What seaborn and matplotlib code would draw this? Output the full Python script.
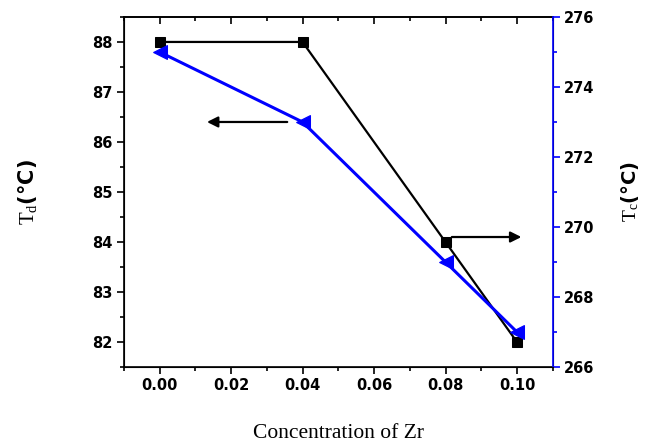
import seaborn as sns
import matplotlib.pyplot as plt
import pandas as pd

# Zr concentration vs depolarization / Curie temperature
zr = [0.00, 0.04, 0.08, 0.10]
td = [88, 88, 84, 82]
tc = [275, 273, 269, 267]

df = pd.DataFrame({'zr': zr, 'td': td, 'tc': tc})

sns.set_style('ticks', {'text.color': 'black', 'axes.labelcolor': 'black',
                        'xtick.color': 'black', 'ytick.color': 'black',
                        'axes.edgecolor': 'black'})
plt.rcParams['mathtext.fontset'] = 'custom'
plt.rcParams['mathtext.rm'] = 'Liberation Serif'
plt.rcParams['mathtext.it'] = 'Liberation Serif'

fig = plt.figure(figsize=(6.48, 4.46), dpi=100)
ax = fig.add_axes([0.191, 0.177, 0.662, 0.785])
ax2 = ax.twinx()

sns.lineplot(data=df, x='zr', y='td', ax=ax, color='black', marker='s',
             markersize=7, linewidth=1.6, markeredgecolor='black')
sns.lineplot(data=df, x='zr', y='tc', ax=ax2, color='blue', marker='<',
             markersize=10, linewidth=2.2, markeredgecolor='blue')

ax.set_xlim(-0.01, 0.11)
ax.set_ylim(81.5, 88.5)
ax2.set_ylim(266, 276)
major_x = [0.00, 0.02, 0.04, 0.06, 0.08, 0.10]
minor_x = [-0.01, 0.01, 0.03, 0.05, 0.07, 0.09, 0.11]
ax.set_xticks(major_x)
ax.set_xticks(minor_x, minor=True)
ax.set_yticks([82, 83, 84, 85, 86, 87, 88])
ax.set_yticks([81.5, 82.5, 83.5, 84.5, 85.5, 86.5, 87.5, 88.5], minor=True)
ax2.set_yticks([266, 268, 270, 272, 274, 276])
ax2.set_yticks([267, 269, 271, 273, 275], minor=True)

tick_font = {'fontweight': 'bold', 'fontsize': 10.5}
ax.set_xticklabels(['0.00', '0.02', '0.04', '0.06', '0.08', '0.10'], **tick_font)
ax.set_yticklabels(['82', '83', '84', '85', '86', '87', '88'], **tick_font)
ax2.set_yticklabels(['266', '268', '270', '272', '274', '276'], **tick_font)

ax.tick_params(axis='both', which='major', length=5, width=1.2, direction='out', pad=3)
ax.tick_params(axis='both', which='minor', length=3, width=1.2, direction='out')
ax2.tick_params(axis='y', which='major', length=5, width=1.2, color='blue', pad=3)
ax2.tick_params(axis='y', which='minor', length=3, width=1.2, color='blue')

# top ticks point inward
top = ax.secondary_xaxis('top')
top.set_xticks(major_x, labels=[])
top.set_xticks(minor_x, minor=True)
top.tick_params(which='major', direction='in', length=5, width=1.2)
top.tick_params(which='minor', direction='in', length=3, width=1.2)
top.spines['top'].set_linewidth(1.2)

for s in ['left', 'bottom', 'top']:
    ax.spines[s].set_linewidth(1.2)
    ax.spines[s].set_visible(True)
ax2.spines['right'].set_color('blue')
ax2.spines['right'].set_linewidth(1.2)
ax2.spines['right'].set_visible(True)
ax2.spines['top'].set_visible(False)

ax.set_xlabel('Concentration of Zr', fontsize=15.5, family='Liberation Serif', labelpad=22)
ax.set_ylabel(r'$\mathrm{T_d}$' + '(°C)', fontsize=15, fontweight='bold', labelpad=38)
ax2.set_ylabel(r'$\mathrm{T_c}$' + '(°C)', fontsize=14, fontweight='bold', labelpad=18)

# arrows indicating which axis each curve belongs to
arrow = dict(arrowstyle='-|>', color='black', lw=1.6, mutation_scale=16)
ax.annotate('', xy=(0.0125, 86.4), xytext=(0.0365, 86.4), arrowprops=arrow)
ax.annotate('', xy=(0.102, 84.1), xytext=(0.081, 84.1), arrowprops=arrow)

fig.savefig('out.png', dpi=100)
